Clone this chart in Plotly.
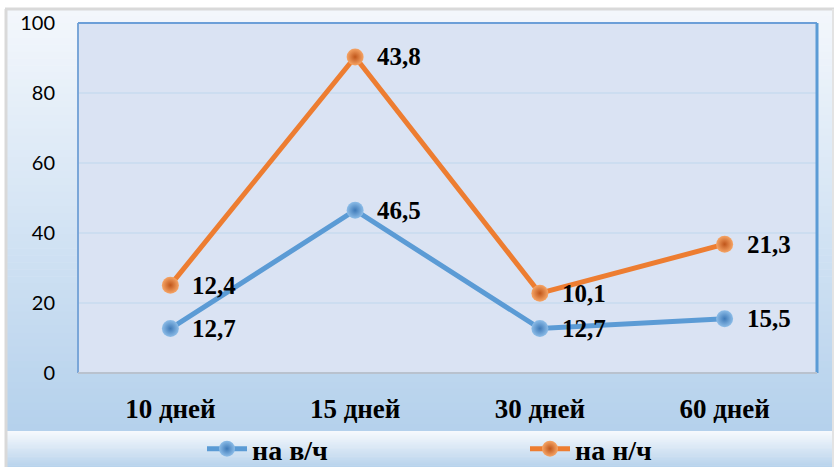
import plotly.graph_objects as go

categories = ["10 дней", "15 дней", "30 дней", "60 дней"]
series_vch = [12.7, 46.5, 12.7, 15.5]
series_nch = [12.4, 43.8, 10.1, 21.3]
names = ["на в/ч", "на н/ч"]
y_ticks = [0, 20, 40, 60, 80, 100]

W, H = 837, 467
L, R, T, B = 78, 20, 23, 94
PW, PH = W - L - R, H - T - B

def px_x(px):
    return (px - L) / PW

def px_y(py):
    return (H - B - py) / PH

def lerp(c1, c2, t):
    return "rgb(%d,%d,%d)" % tuple(round(a + (b - a) * t) for a, b in zip(c1, c2))

# stacked values (Excel stacked line)
stack_nch = [a + b for a, b in zip(series_vch, series_nch)]

fig = go.Figure()

blue, orange = "#5B9BD5", "#ED7D31"

fig.add_trace(go.Scatter(
    x=categories, y=series_vch, name=names[0], mode="lines+markers",
    line=dict(color=blue, width=5),
    marker=dict(size=17, color="#8DBDE8", gradient=dict(type="radial", color="#3F7AB8"),
                line=dict(width=0)),
))
fig.add_trace(go.Scatter(
    x=categories, y=stack_nch, name=names[1], mode="lines+markers",
    line=dict(color=orange, width=5),
    marker=dict(size=17, color="#F6A566", gradient=dict(type="radial", color="#C0561B"),
                line=dict(width=0)),
))

shapes = []
# chart area gradient background
top_c, bot_c = (243, 247, 252), (181, 209, 236)
n = 60
y0p, y1p = 9, 431
for i in range(n):
    a = y0p + (y1p - y0p) * i / n
    b = y0p + (y1p - y0p) * (i + 1) / n + 0.6
    shapes.append(dict(type="rect", xref="paper", yref="paper", layer="below",
                       x0=px_x(6), x1=px_x(832), y0=px_y(a), y1=px_y(min(b, y1p)),
                       fillcolor=lerp(top_c, bot_c, i / (n - 1)), line=dict(width=0)))
# legend band gradient
lt, lb = (246, 249, 253), (184, 211, 236)
m = 20
for i in range(m):
    a = 431 + 36 * i / m
    b = 431 + 36 * (i + 1) / m + 0.6
    shapes.append(dict(type="rect", xref="paper", yref="paper", layer="below",
                       x0=px_x(6), x1=px_x(832), y0=px_y(a), y1=px_y(min(b, 467)),
                       fillcolor=lerp(lt, lb, i / (m - 1)), line=dict(width=0)))
# plot area fill
shapes.append(dict(type="rect", xref="paper", yref="paper", layer="below",
                   x0=0, x1=1, y0=0, y1=1, fillcolor="#DAE3F3", line=dict(width=0)))
# outer border
shapes.append(dict(type="line", xref="paper", yref="paper", x0=px_x(6), x1=px_x(6),
                   y0=px_y(9), y1=px_y(467), line=dict(color="#D9D9D9", width=3)))
shapes.append(dict(type="line", xref="paper", yref="paper", x0=px_x(5), x1=px_x(834),
                   y0=px_y(9), y1=px_y(9), line=dict(color="#D9D9D9", width=3)))
shapes.append(dict(type="line", xref="paper", yref="paper", x0=px_x(833), x1=px_x(833),
                   y0=px_y(9), y1=px_y(467), line=dict(color="#E3E3E3", width=2)))
# plot area border
shapes.append(dict(type="line", xref="paper", yref="paper", x0=0, x1=0, y0=0, y1=1,
                   line=dict(color="#7AA6D8", width=2)))
shapes.append(dict(type="line", xref="paper", yref="paper", x0=0, x1=1, y0=1, y1=1,
                   line=dict(color="#6C9FD8", width=2)))
shapes.append(dict(type="line", xref="paper", yref="paper", x0=1, x1=1, y0=0, y1=1,
                   line=dict(color="#5B9BD5", width=3)))
shapes.append(dict(type="line", xref="paper", yref="paper", x0=0, x1=1, y0=0, y1=0,
                   line=dict(color="#B9C2CE", width=2)))

annotations = []
lab_font = dict(family="Liberation Serif", size=25, color="black")
for c, v in zip(categories, series_vch):
    annotations.append(dict(x=c, y=v, xref="x", yref="y", text=f"{v:.1f}".replace(".", ","),
                            showarrow=False, xanchor="left", yanchor="middle", xshift=20,
                            font=lab_font))
for c, v, s in zip(categories, series_nch, stack_nch):
    annotations.append(dict(x=c, y=s, xref="x", yref="y", text=f"{v:.1f}".replace(".", ","),
                            showarrow=False, xanchor="left", yanchor="middle", xshift=20,
                            font=lab_font))
for a in annotations:
    a["text"] = "<b>" + a["text"] + "</b>"

fig.update_layout(
    width=W, height=H,
    margin=dict(l=L, r=R, t=T, b=B, pad=0, autoexpand=False),
    paper_bgcolor="white",
    plot_bgcolor="rgba(0,0,0,0)",
    shapes=shapes,
    annotations=annotations,
    showlegend=True,
    legend=dict(orientation="h", xref="container", yref="container",
                x=202 / W, xanchor="left", y=(H - 449) / H, yanchor="middle",
                bgcolor="rgba(0,0,0,0)", entrywidth=268, entrywidthmode="pixels",
                font=dict(family="Liberation Serif", size=28, color="black", weight="bold"),
                itemwidth=40, tracegroupgap=0),
    xaxis=dict(type="category", showgrid=False, zeroline=False, showline=False,
               ticks="", tickfont=dict(family="Liberation Serif", size=27, color="black",
                                       weight="bold"),
               ticklabelstandoff=17, range=[-0.5, 3.5]),
    yaxis=dict(range=[0, 100], tickvals=y_ticks, showgrid=True, gridcolor="#CCDDF0",
               gridwidth=2, zeroline=False, showline=False, ticks="",
               tickfont=dict(family="Lato", size=20, color="black"),
               ticklabelstandoff=22),
)

fig.write_html("out.html")
